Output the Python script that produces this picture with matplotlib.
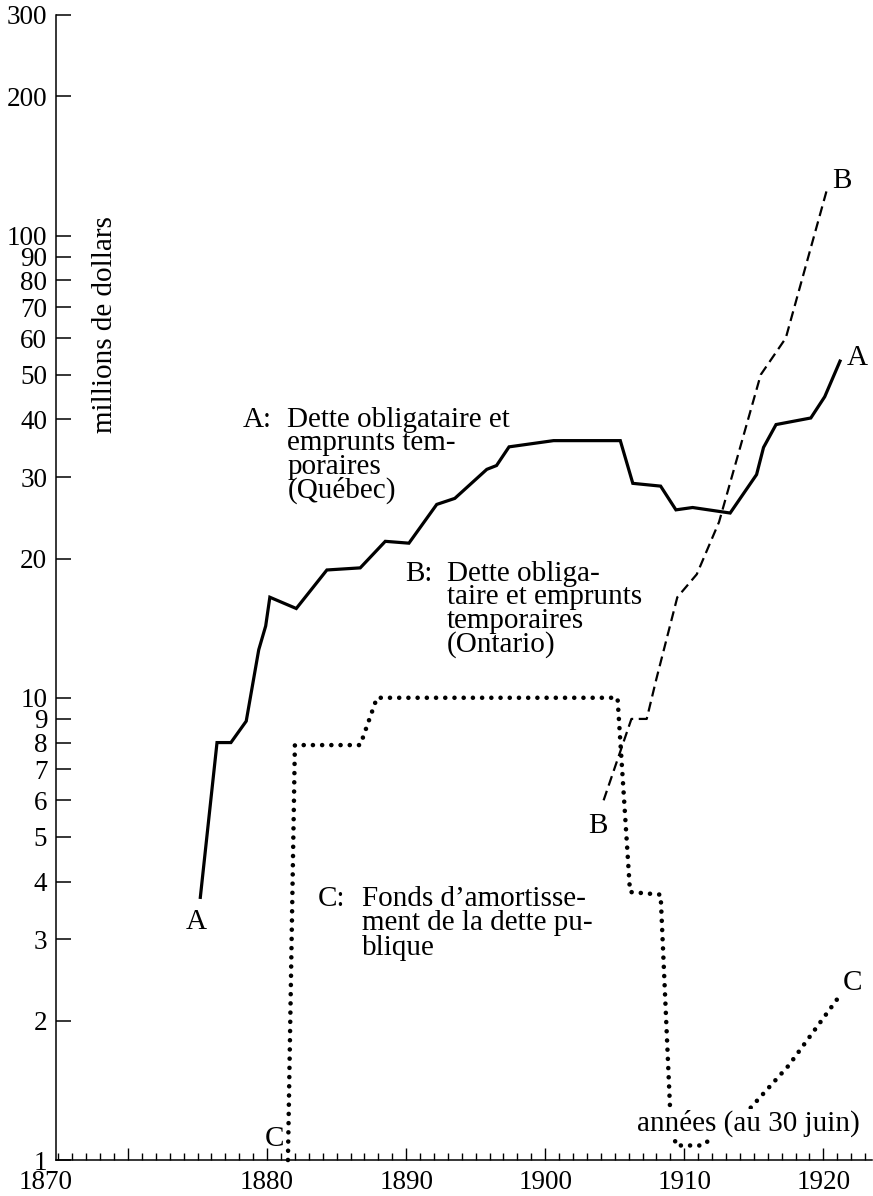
import numpy as np
import matplotlib
matplotlib.use('Agg')
import matplotlib.pyplot as plt
from matplotlib.ticker import FixedLocator, NullLocator

plt.rcParams['font.family'] = ['Liberation Serif', 'DejaVu Serif']

# A: dette obligataire et emprunts temporaires (Quebec), millions $
years_a = [1875.2, 1876.4, 1877.4, 1878.5, 1879.4, 1879.9, 1880.2, 1882.1, 1884.3, 1886.7,
           1888.5, 1890.2, 1892.2, 1893.5, 1895.8, 1896.5, 1897.4, 1900.6, 1905.4, 1906.3,
           1908.3, 1909.4, 1910.6, 1913.3, 1915.2, 1915.7, 1916.6, 1919.1, 1920.1, 1921.2]
debt_a = [3.7, 8.0, 8.0, 8.9, 12.7, 14.3, 16.5, 15.6, 18.9, 19.1,
          21.8, 21.6, 26.2, 27.0, 31.2, 31.8, 34.9, 36.0, 36.0, 29.1,
          28.7, 25.5, 25.8, 25.1, 30.4, 34.8, 39.0, 40.3, 44.8, 53.5]

# B: dette obligataire et emprunts temporaires (Ontario)
years_b = [1904.2, 1906.2, 1907.3, 1908.0, 1909.5, 1910.9, 1912.5, 1915.5, 1917.3, 1920.3]
debt_b = [6.0, 9.0, 9.0, 11.0, 16.5, 18.5, 24.0, 50.0, 60.0, 127.0]

# C: fonds d'amortissement de la dette publique
years_c = [1881.5, 1882.0, 1886.7, 1887.9, 1905.2, 1906.1, 1908.3, 1909.0, 1909.4,
           1911.3, 1914.7, 1917.5, 1921.1]
fund_c = [1.0, 7.9, 7.9, 10.0, 10.0, 3.8, 3.75, 1.25, 1.075,
          1.075, 1.29, 1.6, 2.25]

y_ticks = [1, 2, 3, 4, 5, 6, 7, 8, 9, 10, 20, 30, 40, 50, 60, 70, 80, 90, 100, 200, 300]
x_major = [1870, 1880, 1890, 1900, 1910, 1920]
x_labels = ['', '1880', '1890', '1900', '1910', '1920']

W, H = 873, 1196
fig = plt.figure(figsize=(W / 100, H / 100), dpi=100)
ax = fig.add_axes([55.7 / W, 36 / H, (872 - 55.7) / W, (1160 - 15) / H])

FS = 21


def ptext(x, y, s, **kw):
    # place text by pixel position (baseline)
    kw.setdefault('fontsize', FS)
    kw.setdefault('va', 'baseline')
    return fig.text(x / W, 1 - y / H, s, **kw)


ax.plot(years_a, debt_a, color='black', lw=2.3, solid_joinstyle='miter')
ax.plot(years_b, debt_b, color='black', lw=1.6, linestyle=(0, (4.5, 2.5)))
ax.plot(years_c, fund_c, color='black', lw=3.3, linestyle=(0, (0.01, 2.0)),
        dash_capstyle='round', clip_on=False)

ax.set_yscale('log')
ax.set_ylim(1, 300)
ax.set_xlim(1864.8, 1923.5)

ax.yaxis.set_major_locator(FixedLocator(y_ticks))
ax.yaxis.set_minor_locator(NullLocator())
ax.set_yticklabels([str(v) for v in y_ticks])
ax.set_xticks(x_major)
ax.set_xticklabels(x_labels)
ax.xaxis.set_minor_locator(FixedLocator(np.arange(1865, 1924)))

ax.tick_params(axis='y', which='major', direction='in', length=11, width=1.1,
               labelsize=19.5, pad=6)
ax.tick_params(axis='x', which='major', direction='in', length=9, width=1.0,
               labelsize=19.5, pad=7)
ax.tick_params(axis='x', which='minor', direction='in', length=5, width=1.0)
for side in ['top', 'right']:
    ax.spines[side].set_visible(False)
for side in ['left', 'bottom']:
    ax.spines[side].set_linewidth(1.1)

# first year label sits at the corner of the axes
ax.text(-0.012, -0.0085, '1870', transform=ax.transAxes, ha='center', va='top',
        fontsize=19.5)

ptext(105, 325, 'millions de dollars', rotation=90, ha='center', va='center')

# series descriptions
ptext(243, 426.7, 'A:')
for i, line in enumerate(['Dette obligataire et', 'emprunts tem-', 'poraires', '(Québec)']):
    ptext(287.3, 426.7 + 23.8 * i, line)

ptext(405, 580.7, 'B:')
for i, line in enumerate(['Dette obliga-', 'taire et emprunts', 'temporaires', '(Ontario)']):
    ptext(446.7, 580.7 + 23.8 * i, line)

ptext(318, 906, 'C:')
for i, line in enumerate(["Fonds d\u2019amortisse-", 'ment de la dette pu-', 'blique']):
    ptext(361.7, 906 + 24.5 * i, line)

ptext(637, 1131, 'années (au 30 juin)', zorder=5,
      bbox=dict(facecolor='white', edgecolor='none', pad=1))

# line end markers
ptext(196, 928.6, 'A', ha='center')
ptext(857, 365, 'A', ha='center')
ptext(597.5, 833, 'B', ha='center')
ptext(842, 188, 'B', ha='center')
ptext(274, 1146.5, 'C', ha='center')
ptext(852, 990, 'C', ha='center')

fig.savefig('out.png', dpi=100)
